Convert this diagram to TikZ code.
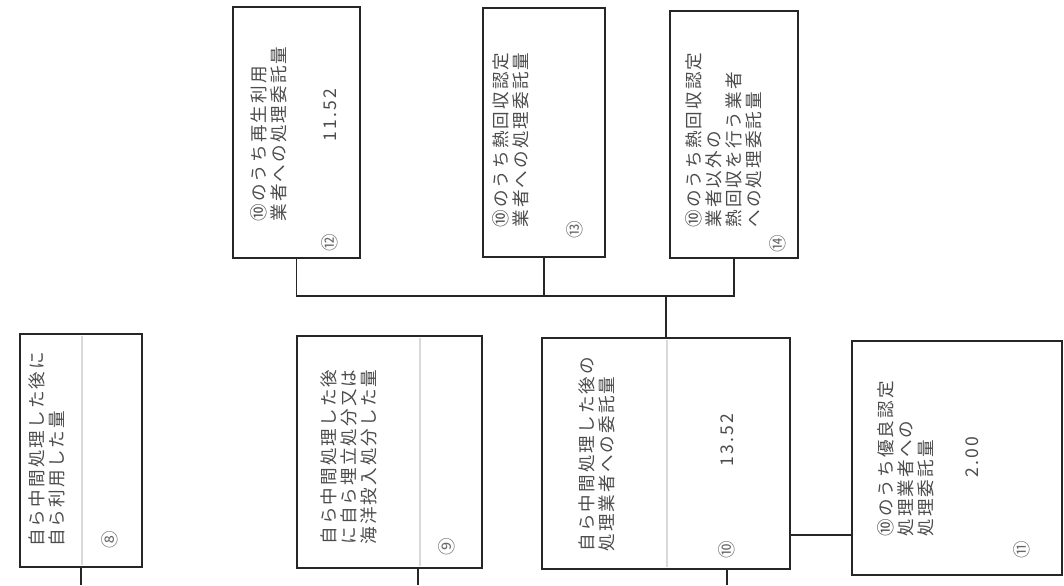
\documentclass[tikz,border=0pt]{standalone}
\usepackage{fontspec}
\newfontfamily\jp[LetterSpace=12]{Noto Sans CJK JP}
\usetikzlibrary{fit}

\begin{document}
\begin{tikzpicture}[x=0.02cm, y=-0.02cm,
  box/.style={draw=black!85, line width=1.1pt, inner sep=0pt},
  itemtext/.style={rotate=90, anchor=north west, align=left, inner sep=0pt, text=black!70, font=\jp\fontsize{10}{11.4}\selectfont},
  amount/.style={rotate=90, inner sep=0pt, text=black!70, font=\jp\fontsize{10}{12}\selectfont},
  num/.style={rotate=90, inner sep=0pt, text=black!60, font=\jp\fontsize{10}{10}\selectfont},
  link/.style={draw=black!85, line width=1.1pt},
  divider/.style={draw=black!15, line width=0.6pt}]
  \useasboundingbox (0,0) rectangle (1064,585);

  % upper row
  \node[box, fit={(233,7) (360,258)}] (b12) {};
  \node[box, fit={(483,8) (605,257)}] (b13) {};
  \node[box, fit={(670,11) (798,258)}] (b14) {};
  % lower row
  \node[box, fit={(20,334) (142,567)}] (b8) {};
  \node[box, fit={(297,336) (482,568)}] (b9) {};
  \node[box, fit={(542,338) (790,569)}] (b10) {};
  \node[box, fit={(852,341) (1062,575)}] (b11) {};

  \draw[divider] (82,336) -- (82,565);
  \draw[divider] (420,338) -- (420,566);
  \draw[divider] (667,340) -- (667,567);

  \node[itemtext] (t12) at (250,222) {⑩のうち再生利用\\業者への処理委託量};
  \node[itemtext] (t13) at (492,228) {⑩のうち熱回収認定\\業者への処理委託量};
  \node[itemtext] (t14) at (685,228) {⑩のうち熱回収認定\\業者以外の\\熱回収を行う業者\\への処理委託量};
  \node[itemtext] (t8) at (28,547) {自ら中間処理した後に\\自ら利用した量};
  \node[itemtext] (t9) at (320,545) {自ら中間処理した後\\に自ら埋立処分又は\\海洋投入処分した量};
  \node[itemtext] (t10) at (578,552) {自ら中間処理した後の\\処理業者への委託量};
  \node[itemtext] (t11) at (877,537) {⑩のうち優良認定\\処理業者への\\処理委託量};

  \node[amount] (v12) at (330,115) {11.52};
  \node[amount] (v10) at (727,440) {13.52};
  \node[amount] (v11) at (972,457) {2.00};

  \node[num] (n12) at (330,243) {⑫};
  \node[num] (n13) at (575,230) {⑬};
  \node[num] (n14) at (778,244) {⑭};
  \node[num] (n8) at (110,540) {⑧};
  \node[num] (n9) at (447,547) {⑨};
  \node[num] (n10) at (727,550) {⑩};
  \node[num] (n11) at (1022,550) {⑪};

  % connectors
  \coordinate (bus) at (0,296);
  \coordinate (tie) at (0,535);
  \draw[link] (b12.south) -- (b12.south |- bus) -- (b14.south |- bus) -- (b14.south);
  \draw[link] (b13.south) -- (b13.south |- bus);
  \draw[link] (b10.north |- bus) -- (b10.north);
  \draw[link] (b10.east |- tie) -- (b11.west |- tie);

  \coordinate (d8) at (81,585);
  \coordinate (d9) at (418,585);
  \coordinate (d10) at (727,585);
  \foreach \b/\d in {b8/d8, b9/d9, b10/d10}
    \draw[link] (\b.south -| \d) -- (\d);
\end{tikzpicture}
\end{document}
